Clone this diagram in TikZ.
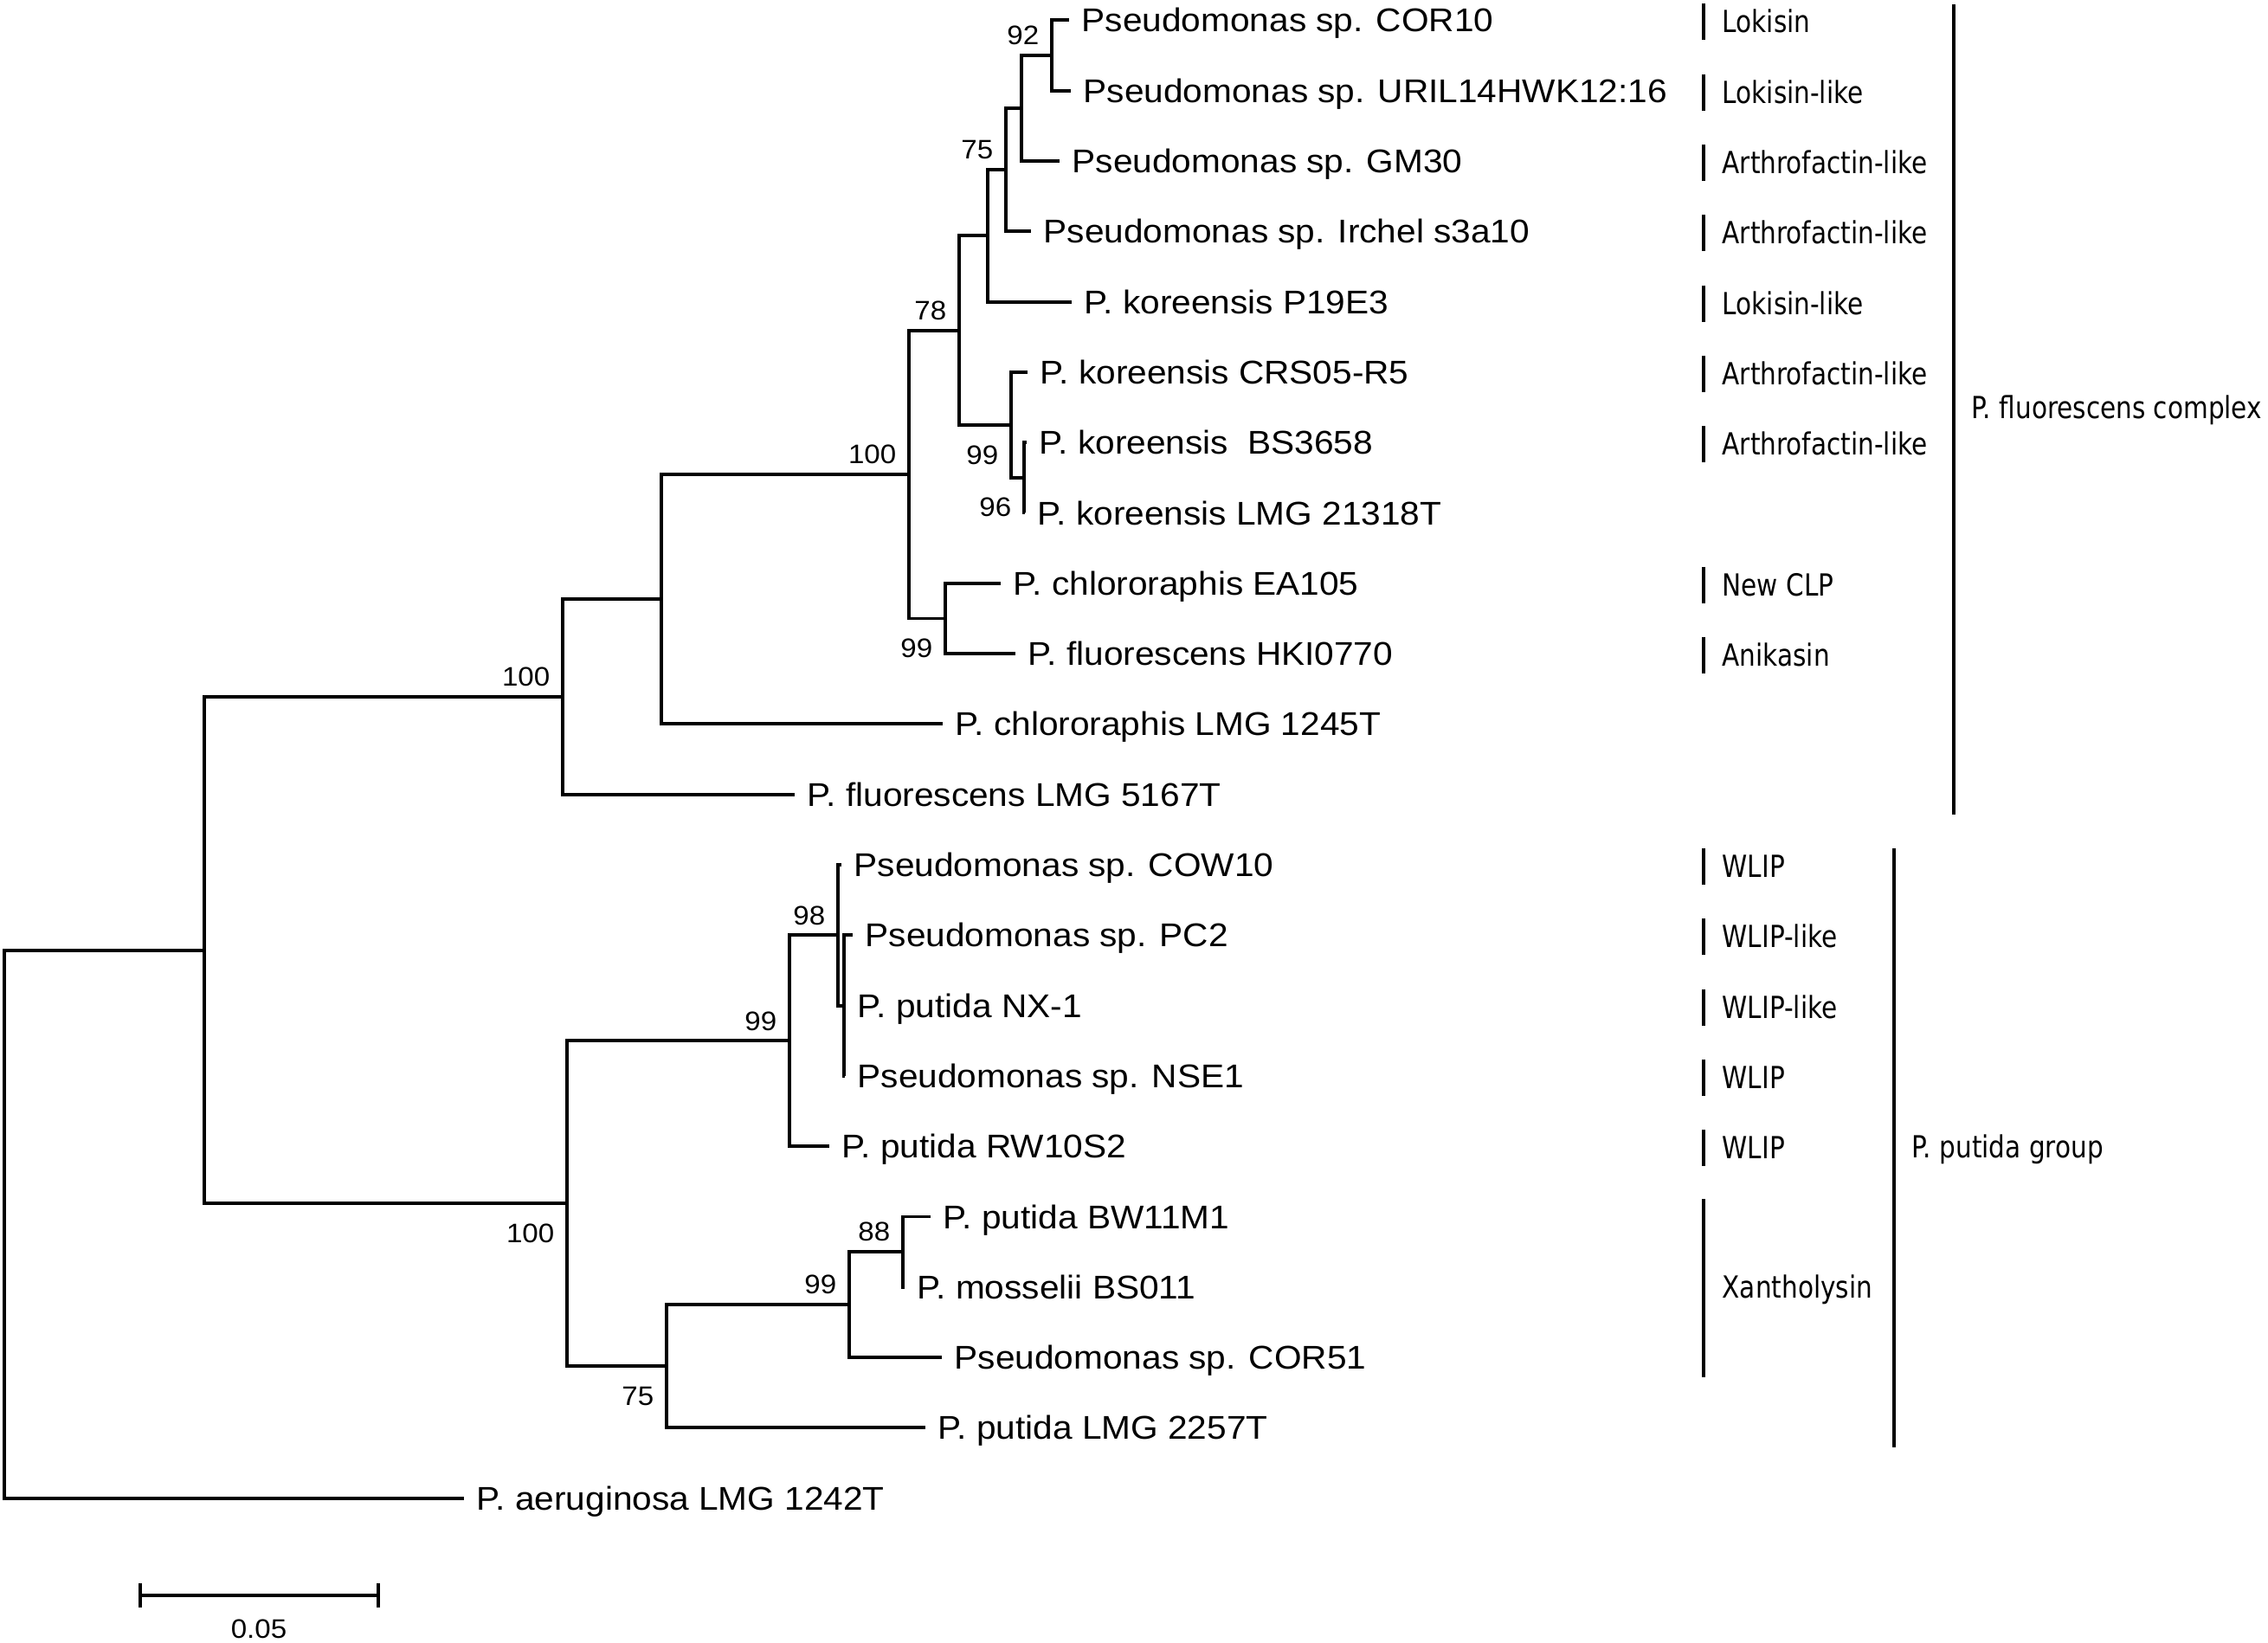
\documentclass[tikz,border=0pt]{standalone}
\usepackage{fontspec}
\newfontfamily\taxfont[FakeStretch=1.07]{Liberation Sans}
\newfontfamily\annfont[FakeStretch=0.84]{DejaVu Sans}

\begin{document}
\begin{tikzpicture}[x=0.1mm, y=-8.13mm,
	branch/.style={line width=1.1pt},
	bar/.style={line width=1.2pt},
	leaf/.style={anchor=west, inner xsep=4pt, inner ysep=0pt, text height=7.7pt, text depth=0pt, font=\taxfont\fontsize{10.8}{12}\selectfont},
	bsup/.style={anchor=south east, inner sep=0pt, xshift=-4pt, yshift=3.2pt, font=\taxfont\fontsize{8.8}{10}\selectfont},
	bsdown/.style={anchor=north east, inner sep=0pt, xshift=-4pt, yshift=-6.5pt, font=\taxfont\fontsize{8.8}{10}\selectfont},
	ann/.style={anchor=west, inner sep=0pt, text height=7.3pt, text depth=0pt, font=\annfont\fontsize{10}{12}\selectfont}]
	\useasboundingbox (0,-0.288) rectangle (2620,23.057);
	% taxa, one row each
	\foreach \x/\r/\t in {1235/0/Pseudomonas sp. COR10, 1237/1/Pseudomonas sp. URIL14HWK12:16, 1224/2/Pseudomonas sp. GM30,
		1191/3/Pseudomonas sp. Irchel s3a10, 1238/4/P. koreensis P19E3, 1187/5/P. koreensis CRS05-R5,
		1186/6/P. koreensis~ BS3658, 1184/7/P. koreensis LMG 21318T, 1156/8/P. chlororaphis EA105,
		1173/9/P. fluorescens HKI0770, 1089/10/P. chlororaphis LMG 1245T, 918/11/P. fluorescens LMG 5167T,
		972/12/Pseudomonas sp. COW10, 985/13/Pseudomonas sp. PC2, 976/14/P. putida NX-1,
		976/15/Pseudomonas sp. NSE1, 958/16/P. putida RW10S2, 1075/17/P. putida BW11M1,
		1045/18/P. mosselii BS011, 1088/19/Pseudomonas sp. COR51, 1069/20/P. putida LMG 2257T,
		536/21/P. aeruginosa LMG 1242T}
	\node[leaf] (l\r) at (\x,\r) {\t};
	% inner nodes
	\coordinate (n92) at (1215,0.5);
	\coordinate (nB) at (1180,1.25);
	\coordinate (nC) at (1162,2.125);
	\coordinate (nD) at (1141,3.0625);
	\coordinate (nGp) at (1183,6.5);
	\coordinate (nF) at (1168,5.75);
	\coordinate (nE) at (1108,4.40625);
	\coordinate (nH) at (1092,8.5);
	\coordinate (nG) at (1050,6.453);
	\coordinate (nI) at (764,8.227);
	\coordinate (nJ) at (650,9.613);
	\coordinate (nX) at (975,14);
	\coordinate (nP) at (968,13);
	\coordinate (nM) at (912,14.5);
	\coordinate (nS) at (1043,17.5);
	\coordinate (nT) at (981,18.25);
	\coordinate (nU) at (770,19.125);
	\coordinate (nL) at (655,16.8125);
	\coordinate (nK) at (236,13.213);
	\coordinate (root) at (5,17.106);
	% branches
	\foreach \p/\c in {root/nK, root/l21.west, nK/nJ, nK/nL, nJ/nI, nJ/l11.west, nI/nG, nI/l10.west,
		nG/nE, nG/nH, nE/nD, nE/nF, nD/nC, nD/l4.west, nC/nB, nC/l3.west, nB/n92, nB/l2.west,
		n92/l0.west, n92/l1.west, nF/l5.west, nF/nGp, nGp/l6.west, nGp/l7.west, nH/l8.west, nH/l9.west,
		nL/nM, nL/nU, nM/nP, nM/l16.west, nP/l12.west, nP/nX, nX/l13.west, nX/l14.west, nX/l15.west,
		nU/nT, nU/l20.west, nT/nS, nT/l19.west, nS/l17.west, nS/l18.west}
	\draw[branch] (\p) |- (\c);
	% bootstrap values
	\foreach \c/\v in {n92/92, nC/75, nE/78, nG/100, nJ/100, nP/98, nM/99, nS/88, nT/99}
	\node[bsup] (b\c) at (\c) {\v};
	\foreach \c/\v in {nF/99, nGp/96, nH/99, nL/100, nU/75}
	\node[bsdown] (b\c) at (\c) {\v};
	% lipopeptides
	\foreach \r/\t in {0/Lokisin, 1/Lokisin-like, 2/Arthrofactin-like, 3/Arthrofactin-like, 4/Lokisin-like,
		5/Arthrofactin-like, 6/Arthrofactin-like, 8/New CLP, 9/Anikasin, 12/WLIP, 13/WLIP-like,
		14/WLIP-like, 15/WLIP, 16/WLIP}
	{
		\node[ann] (a\r) at (1989,\r+0.02) {\t};
		\draw[bar] (1968,\r-0.234) -- (1968,\r+0.283);
	}
	\node[ann] (xanth) at (1989,18) {Xantholysin};
	\draw[bar] (1968,16.748) -- (1968,19.28);
	% groups
	\draw[bar] (2257,-0.226) -- (2257,11.283);
	\node[ann] (fluo) at (2277,5.5) {P. fluorescens complex};
	\draw[bar] (2188,11.763) -- (2188,20.284);
	\node[ann] (puti) at (2208,16) {P. putida group};
	% scale
	\coordinate (s0) at (162,22.381);
	\coordinate (s1) at (437,22.381);
	\draw[branch] (s0) -- (s1);
	\draw[branch] ([yshift=4pt]s0) -- ([yshift=-4pt]s0);
	\draw[branch] ([yshift=4pt]s1) -- ([yshift=-4pt]s1);
	\node[inner sep=0pt, font=\taxfont\fontsize{8.8}{10}\selectfont] (sc) at (299,22.857) {0.05};
\end{tikzpicture}
\end{document}
